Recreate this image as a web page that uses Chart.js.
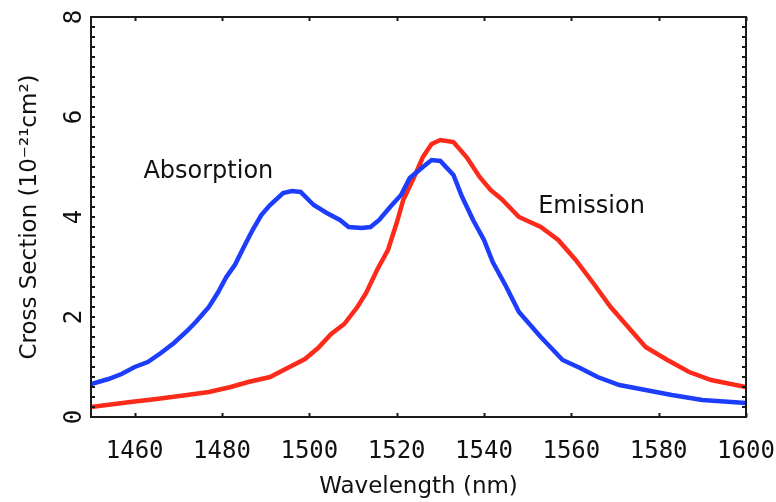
<!DOCTYPE html>
<html lang="en">
<head>
    <meta charset="UTF-8">
    <title>Er cross sections</title>
    <script src="https://cdn.jsdelivr.net/npm/chart.js"></script>
    <style>
        body { margin: 0; background: #fff; }
        #wrap { width: 776px; height: 502px; }
    </style>
</head>
<body>
    <div id="wrap"><canvas id="crossChart" width="776" height="502"></canvas></div>

    <script>
        // Absorption curve (blue)
        const absWavelength = [1450, 1454, 1457, 1460, 1463, 1466, 1469, 1472, 1474, 1477, 1479, 1481, 1483, 1485, 1487, 1489, 1491, 1494, 1496, 1498, 1501, 1504, 1507, 1509, 1512, 1514, 1516, 1518.5, 1521, 1523, 1526, 1528, 1530, 1533, 1535, 1537.5, 1540, 1542, 1545, 1548, 1553, 1558, 1562, 1566, 1571, 1577, 1583, 1590, 1600];
        const absCross = [0.66, 0.76, 0.86, 1.0, 1.1, 1.28, 1.48, 1.72, 1.9, 2.2, 2.48, 2.8, 3.05, 3.4, 3.74, 4.04, 4.24, 4.48, 4.52, 4.5, 4.24, 4.08, 3.94, 3.8, 3.78, 3.8, 3.94, 4.2, 4.44, 4.78, 5.0, 5.14, 5.12, 4.84, 4.4, 3.94, 3.54, 3.1, 2.62, 2.1, 1.6, 1.14, 0.98, 0.8, 0.64, 0.54, 0.44, 0.34, 0.28];

        // Emission curve (red)
        const emiWavelength = [1450, 1459, 1465, 1472, 1477, 1482, 1486, 1491, 1495, 1499, 1502, 1505, 1508, 1511, 1513, 1515.5, 1518, 1520, 1521.5, 1524, 1526, 1528, 1530, 1533, 1536, 1539, 1541.5, 1544, 1548, 1553, 1557, 1561, 1565, 1569, 1573, 1577, 1582, 1587, 1592, 1600];
        const emiCross = [0.2, 0.3, 0.36, 0.44, 0.5, 0.6, 0.7, 0.8, 0.98, 1.16, 1.38, 1.66, 1.86, 2.2, 2.48, 2.94, 3.34, 3.88, 4.34, 4.8, 5.2, 5.46, 5.54, 5.5, 5.2, 4.8, 4.54, 4.36, 4.0, 3.8, 3.54, 3.14, 2.68, 2.2, 1.8, 1.4, 1.14, 0.9, 0.74, 0.6];

        const xTicks = [1460, 1480, 1500, 1520, 1540, 1560, 1580, 1600];
        const yLabelTicks = [0, 2, 4, 6, 8];
        const yMinorStep = 0.2;

        const curveLabels = [
            { text: 'Absorption', x: 1462, y: 4.78 },
            { text: 'Emission', x: 1552.4, y: 4.08 }
        ];

        const blue = '#1d3dfc';
        const red = '#fc2a1b';

        function toPoints(xs, ys) {
            return xs.map((x, i) => ({ x: x, y: ys[i] }));
        }

        // frame, inward tick marks and the curve names
        const framePlugin = {
            id: 'frame',
            afterDatasetsDraw(chart) {
                const { ctx, chartArea: a, scales: { x, y } } = chart;
                ctx.save();
                ctx.strokeStyle = '#1a1a1a';
                ctx.lineWidth = 2;
                ctx.strokeRect(a.left, a.top, a.right - a.left, a.bottom - a.top);
                ctx.beginPath();
                x.ticks.forEach(t => {
                    const px = Math.round(x.getPixelForValue(t.value)) + 0.5;
                    ctx.moveTo(px, a.bottom); ctx.lineTo(px, a.bottom - 4);
                    ctx.moveTo(px, a.top); ctx.lineTo(px, a.top + 4);
                });
                y.ticks.forEach(t => {
                    const py = Math.round(y.getPixelForValue(t.value));
                    ctx.moveTo(a.left, py); ctx.lineTo(a.left + 4, py);
                    ctx.moveTo(a.right, py); ctx.lineTo(a.right - 4, py);
                });
                ctx.stroke();

                ctx.fillStyle = '#111';
                ctx.font = '24px "DejaVu Sans"';
                ctx.textBaseline = 'alphabetic';
                ctx.textAlign = 'left';
                curveLabels.forEach(l => {
                    ctx.fillText(l.text, x.getPixelForValue(l.x), y.getPixelForValue(l.y));
                });
                ctx.restore();
            }
        };

        function noEdgePadding(s) {
            s.paddingLeft = 0;
            s.paddingRight = 0;
            s.paddingTop = 0;
            s.paddingBottom = 0;
        }

        const ctx = document.getElementById('crossChart').getContext('2d');
        new Chart(ctx, {
            type: 'line',
            data: {
                datasets: [{
                    label: 'Absorption',
                    data: toPoints(absWavelength, absCross),
                    borderColor: blue,
                    borderWidth: 4.5,
                    pointRadius: 0,
                    tension: 0,
                    fill: false
                }, {
                    label: 'Emission',
                    data: toPoints(emiWavelength, emiCross),
                    borderColor: red,
                    borderWidth: 4.5,
                    pointRadius: 0,
                    tension: 0,
                    fill: false
                }]
            },
            options: {
                responsive: false,
                animation: false,
                layout: { padding: { left: 0, top: 17, right: 30, bottom: 0 } },
                plugins: {
                    legend: { display: false },
                    tooltip: { enabled: false }
                },
                scales: {
                    x: {
                        type: 'linear',
                        min: 1450,
                        max: 1600,
                        grid: { display: false },
                        border: { display: false },
                        afterBuildTicks: s => { s.ticks = xTicks.map(v => ({ value: v })); },
                        afterFit: s => { s.height = 85; noEdgePadding(s); },
                        ticks: {
                            color: '#111',
                            padding: 12,
                            maxRotation: 0,
                            autoSkip: false,
                            font: { family: '"DejaVu Sans Mono"', size: 24 },
                            callback: v => String(v)
                        },
                        title: {
                            display: true,
                            text: 'Wavelength (nm)',
                            color: '#111',
                            font: { family: '"DejaVu Sans"', size: 23 },
                            padding: { top: 0, bottom: 1 }
                        }
                    },
                    y: {
                        type: 'linear',
                        min: 0,
                        max: 8,
                        grid: { display: false },
                        border: { display: false },
                        afterBuildTicks: s => {
                            const ticks = [];
                            const n = Math.round(8 / yMinorStep);
                            for (let i = 0; i <= n; i++) ticks.push({ value: +(i * yMinorStep).toFixed(1) });
                            s.ticks = ticks;
                        },
                        afterFit: s => { s.width = 91; noEdgePadding(s); },
                        ticks: {
                            color: '#111',
                            padding: 1,
                            autoSkip: false,
                            minRotation: 90,
                            maxRotation: 90,
                            crossAlign: 'center',
                            font: { family: '"DejaVu Sans Mono"', size: 24 },
                            callback: v => yLabelTicks.includes(v) ? String(v) : ''
                        },
                        title: {
                            display: true,
                            text: 'Cross Section (10\u207B\u00B2\u00B9cm\u00B2)',
                            color: '#111',
                            font: { family: '"DejaVu Sans"', size: 23 },
                            padding: { top: 16, bottom: 0 }
                        }
                    }
                }
            },
            plugins: [framePlugin]
        });
    </script>
</body>
</html>
